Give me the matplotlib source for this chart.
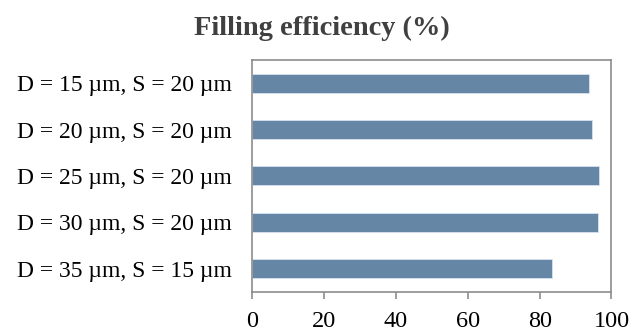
import matplotlib
matplotlib.use("Agg")
import matplotlib.pyplot as plt

# Data
labels = ["D = 15 \u00b5m, S = 20 \u00b5m",
          "D = 20 \u00b5m, S = 20 \u00b5m",
          "D = 25 \u00b5m, S = 20 \u00b5m",
          "D = 30 \u00b5m, S = 20 \u00b5m",
          "D = 35 \u00b5m, S = 15 \u00b5m"]
efficiency = [93.7, 94.5, 96.6, 96.2, 83.4]
xticks = [0, 20, 40, 60, 80, 100]

plt.rcParams['font.family'] = ['Liberation Serif', 'DejaVu Serif']

fig = plt.figure(figsize=(6.34, 3.32), dpi=100)
ax = fig.add_axes([0.398, 0.1214, 0.5665, 0.6976])

pos = list(range(len(labels)))[::-1]
ax.barh(pos, efficiency, height=0.41, color="#6686a6", edgecolor="#d6e2ee", linewidth=0.6)

ax.set_xlim(0, 100)
ax.set_ylim(-0.5, 4.5)
ax.set_xticks(xticks)
ax.set_xticklabels([str(t) for t in xticks], fontsize=17.5)
ax.set_yticks(pos)
ax.set_yticklabels(labels, fontsize=17)

for s in ax.spines.values():
    s.set_color("#8c8c8c")
    s.set_linewidth(1.2)
ax.tick_params(axis='x', direction='out', length=5, color="#8c8c8c", width=1.2, pad=9)
ax.tick_params(axis='y', length=0, pad=14.5)

fig.text(0.508, 0.915, "Filling efficiency (%)", ha='center', va='center',
         fontsize=20.5, fontweight='bold', color="#404040")

fig.savefig("out.png", dpi=100)
